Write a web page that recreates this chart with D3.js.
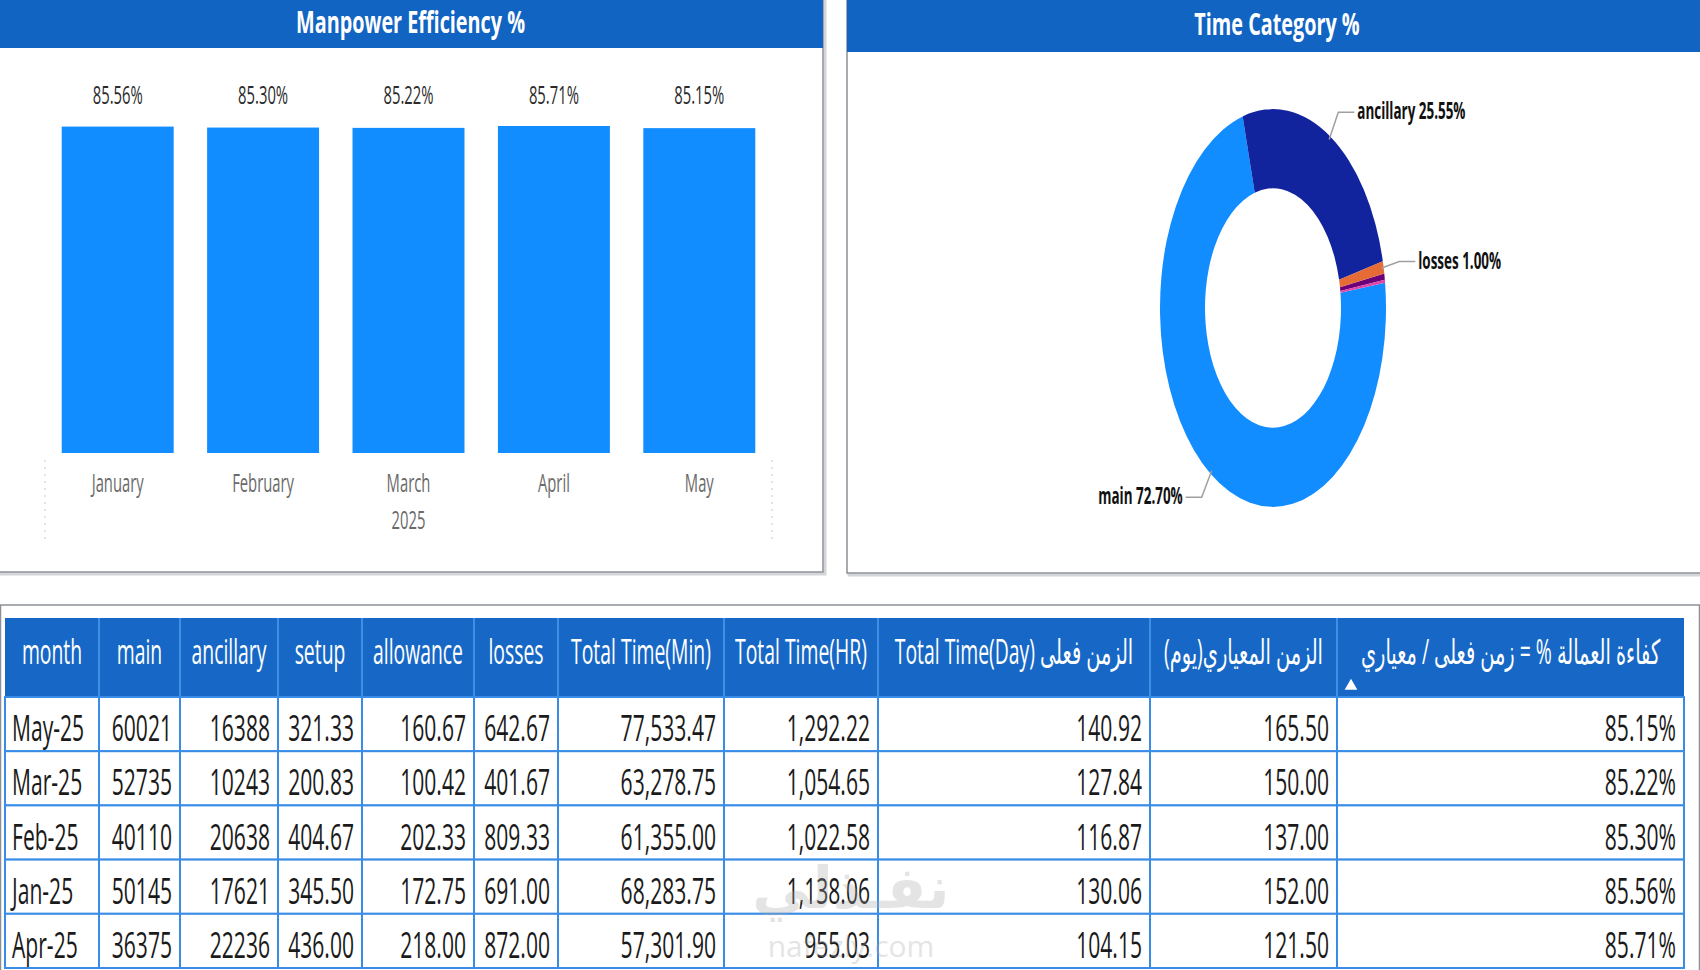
<!DOCTYPE html>
<html>
<head>
<meta charset="utf-8">
<script src="https://cdn.jsdelivr.net/npm/d3@7"></script>
<style>
  body { margin: 0; background: #fff; }
  svg { display: block; font-family: "Open Sans", "DejaVu Sans", sans-serif; }
</style>
</head>
<body>
<script>
// ---- data ----
const months = ["January", "February", "March", "April", "May"];
const efficiency = [85.56, 85.30, 85.22, 85.71, 85.15];
const yearLabel = "2025";

const categories = ["main", "ancillary", "setup", "allowance", "losses"];
const categoryShare = [72.70, 25.55, 0.50, 0.25, 1.00];
const categoryColors = ["#118DFF", "#12239E", "#6B007B", "#E044A7", "#E66C37"];
const labelled = ["main", "ancillary", "losses"];

const tableHeaders = ["month", "main", "ancillary", "setup", "allowance", "losses",
  "Total Time(Min)", "Total Time(HR)", "Total Time(Day) الزمن فعلى",
  "الزمن المعياري(يوم)", "كفاءة العمالة % = زمن فعلى / معياري"];
const rowMonths = ["May-25", "Mar-25", "Feb-25", "Jan-25", "Apr-25"];
const mainMin = [60021, 52735, 40110, 50145, 36375];
const ancillaryMin = [16388, 10243, 20638, 17621, 22236];
const setupMin = [321.33, 200.83, 404.67, 345.50, 436.00];
const allowanceMin = [160.67, 100.42, 202.33, 172.75, 218.00];
const lossesMin = [642.67, 401.67, 809.33, 691.00, 872.00];
const totalMin = [77533.47, 63278.75, 61355.00, 68283.75, 57301.90];
const totalHr = [1292.22, 1054.65, 1022.58, 1138.06, 955.03];
const totalDay = [140.92, 127.84, 116.87, 130.06, 104.15];
const standardDay = [165.50, 150.00, 137.00, 152.00, 121.50];
const efficiencyPct = [85.15, 85.22, 85.30, 85.56, 85.71];

// ---- layout ----
const W = 1700, H = 970;
const K = 0.57; // horizontal squeeze of the text, the shot is stretched tall
const colWidths = [94, 81, 98, 84, 112, 84, 166, 154, 272, 187, 347];

const svg = d3.select("body").append("svg")
  .attr("width", W)
  .attr("height", H);

// text helper: squeezed horizontally around its anchor point
function label(g, x, y, s, size, anchor, color, weight, k) {
  return g.append("text")
    .attr("transform", "translate(" + x + "," + y + ") scale(" + (k || K) + ",1)")
    .attr("text-anchor", anchor || "middle")
    .attr("dominant-baseline", "central")
    .attr("font-size", size)
    .attr("font-weight", weight || 400)
    .attr("fill", color || "#222")
    .text(s);
}

// panels
function panel(x, w, h, title, titleH, titleY) {
  const g = svg.append("g");
  g.append("rect").attr("x", x + 2).attr("y", -4).attr("width", w).attr("height", h + 2)
    .attr("fill", "none").attr("stroke", "#d3d5d8").attr("stroke-width", 3);
  g.append("rect").attr("x", x).attr("y", -4).attr("width", w).attr("height", h)
    .attr("fill", "#fff").attr("stroke", "#8c9096").attr("stroke-width", 1.5);
  g.append("rect").attr("x", x).attr("y", -4).attr("width", w).attr("height", titleH + 4)
    .attr("fill", "#1264c2");
  label(g, x + w / 2, titleY, title, 30, "middle", "#fff", 700, 0.66);
  return g;
}
panel(-2, 825, 576, "Manpower Efficiency %", 48, 21);
panel(847, 860, 577, "Time Category %", 52, 23);

// ---- bar chart ----
const x = d3.scaleBand()
  .domain(months)
  .range([45, 772])
  .paddingInner(0.23)
  .paddingOuter(0.115);

const y = d3.scaleLinear()
  .domain([0, d3.max(efficiency)])
  .range([453, 126]);

const bars = svg.append("g");
bars.selectAll("rect.bar")
  .data(months)
  .enter()
  .append("rect")
  .attr("class", "bar")
  .attr("x", d => x(d))
  .attr("y", (d, i) => y(efficiency[i]))
  .attr("width", x.bandwidth())
  .attr("height", (d, i) => y(0) - y(efficiency[i]))
  .attr("fill", "#118DFF");

months.forEach((m, i) => {
  label(bars, x(m) + x.bandwidth() / 2, 94, efficiency[i].toFixed(2) + "%", 26, "middle", "#2b2b2b");
  label(bars, x(m) + x.bandwidth() / 2, 482, m, 26, "middle", "#6a6a6a");
});
label(bars, (x.range()[0] + x.range()[1]) / 2, 519, yearLabel, 26, "middle", "#6a6a6a");

// dotted group edges of the axis
x.range().forEach(px => {
  bars.append("line")
    .attr("x1", px).attr("x2", px)
    .attr("y1", 460).attr("y2", 543)
    .attr("stroke", "#c8c8c8")
    .attr("stroke-dasharray", "2,5");
});

// ---- donut ----
const cx = 1273, cy = 308, R = 113, r = 68, SY = 1.76;
const pie = d3.pie()
  .value(d => d.v)
  .sort((a, b) => b.v - a.v)
  .startAngle(82.7 * Math.PI / 180)
  .endAngle(82.7 * Math.PI / 180 + 2 * Math.PI);
const arc = d3.arc().innerRadius(r).outerRadius(R);
const slices = pie(categories.map((c, i) => ({ c: c, v: categoryShare[i], col: categoryColors[i] })));

const donut = svg.append("g");
donut.append("g")
  .attr("transform", "translate(" + cx + "," + cy + ") scale(1," + SY + ")")
  .selectAll("path")
  .data(slices)
  .enter()
  .append("path")
  .attr("d", arc)
  .attr("fill", d => d.data.col);

slices.filter(s => labelled.includes(s.data.c)).forEach(s => {
  const a = (s.startAngle + s.endAngle) / 2;
  const p0 = [cx + (R - 2) * Math.sin(a), cy - SY * (R - 2) * Math.cos(a)];
  const p1 = [cx + (R + 16) * Math.sin(a), cy - SY * (R + 16) * Math.cos(a)];
  const dir = Math.sin(a) >= 0 ? 1 : -1;
  const p2 = [p1[0] + dir * 16, p1[1]];
  donut.append("polyline")
    .attr("points", [p0, p1, p2].map(p => p.join(",")).join(" "))
    .attr("fill", "none")
    .attr("stroke", "#a0a0a0")
    .attr("stroke-width", 1.5);
  label(donut, p2[0] + dir * 3, p2[1] - 2, s.data.c + " " + s.data.v.toFixed(2) + "%", 24,
    dir > 0 ? "start" : "end", "#111", 700, 0.56);
});

// ---- table ----
svg.append("rect")
  .attr("x", 0.5).attr("y", 605).attr("width", W - 1).attr("height", H)
  .attr("fill", "#fff").attr("stroke", "#8c9096").attr("stroke-width", 1.5);

const unit = d3.scaleLinear()
  .domain([0, d3.sum(colWidths)])
  .range([5, 1684]);
const edges = [0].concat(Array.from(d3.cumsum(colWidths))).map(unit);

const rows = d3.scaleBand()
  .domain(rowMonths)
  .range([697, 968]);

const f2 = d3.format(".2f"), fc = d3.format(",.2f");
const columns = [
  rowMonths,
  mainMin.map(String),
  ancillaryMin.map(String),
  setupMin.map(f2),
  allowanceMin.map(f2),
  lossesMin.map(f2),
  totalMin.map(fc),
  totalHr.map(fc),
  totalDay.map(f2),
  standardDay.map(f2),
  efficiencyPct.map(v => f2(v) + "%")
];

const table = svg.append("g");
table.append("rect")
  .attr("x", edges[0]).attr("y", 618)
  .attr("width", edges[edges.length - 1] - edges[0]).attr("height", 79)
  .attr("fill", "#1768c6");

tableHeaders.forEach((h, j) => {
  const x0 = edges[j], x1 = edges[j + 1];
  if (j > 0) {
    table.append("line").attr("x1", x0).attr("x2", x0).attr("y1", 618).attr("y2", 697)
      .attr("stroke", "#3f8fe6").attr("stroke-width", 2);
  }
  label(table, (x0 + x1) / 2, 650, h, 34, "middle", "#fff");
});
// sort marker on the last header
table.append("path")
  .attr("d", d3.symbol(d3.symbolTriangle, 70)())
  .attr("transform", "translate(1351,686)")
  .attr("fill", "#fff");

rowMonths.forEach((m, i) => {
  const yy = rows(m);
  columns.forEach((col, j) => {
    const x0 = edges[j], x1 = edges[j + 1];
    table.append("rect")
      .attr("x", x0).attr("y", yy)
      .attr("width", x1 - x0).attr("height", rows.bandwidth())
      .attr("fill", "#fff")
      .attr("stroke", "#3a8de6")
      .attr("stroke-width", 2);
    if (j === 0) {
      label(table, x0 + 7, yy + rows.bandwidth() / 2 + 3, col[i], 37, "start", "#1a1a1a");
    } else {
      label(table, x1 - 8, yy + rows.bandwidth() / 2 + 3, col[i], 37, "end", "#1a1a1a");
    }
  });
});

// faint watermark over the table
const wm = svg.append("g").attr("opacity", 0.3);
label(wm, 851, 885, "نفـذلي", 58, "middle", "#a8a8a8", 700, 1);
label(wm, 851, 945, "nafezly.com", 30, "middle", "#a8a8a8", 400, 1);
</script>
</body>
</html>
